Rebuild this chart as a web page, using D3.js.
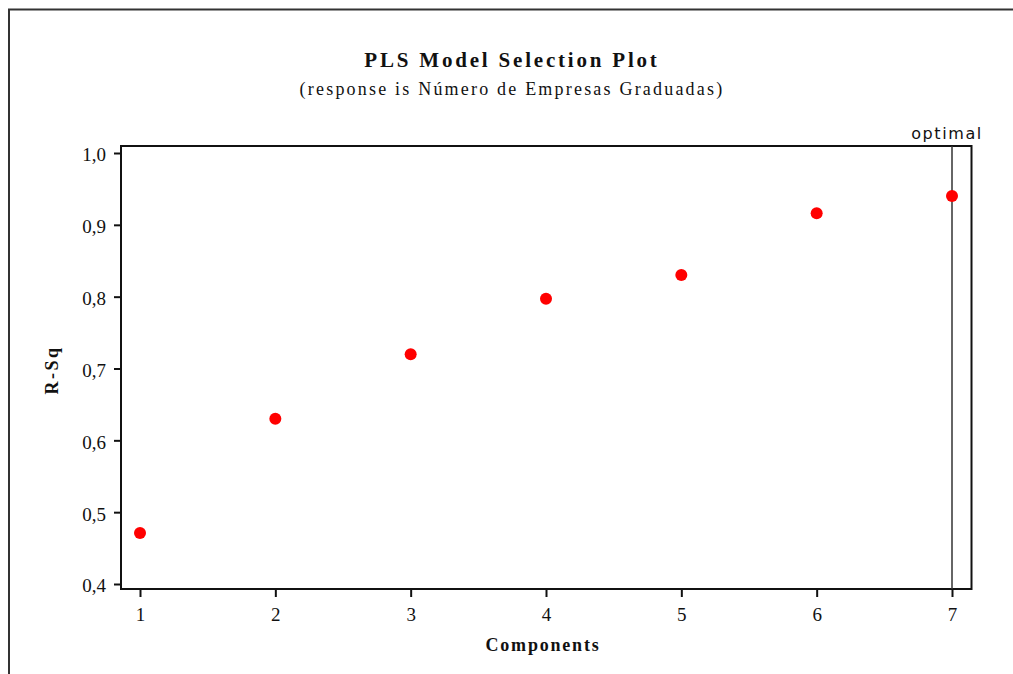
<!DOCTYPE html>
<html lang="en">
<head>
  <meta charset="UTF-8">
  <title>PLS Model Selection Plot</title>
  <script src="https://d3js.org/d3.v7.min.js"></script>
  <style>
    body { margin: 0; background: #fff; }
    svg { display: block; }
    text { fill: #111; }
  </style>
</head>
<body>
  <svg width="1013" height="674"></svg>

  <script>
    const components = [1, 2, 3, 4, 5, 6, 7];
    const rsq = [0.471, 0.630, 0.720, 0.797, 0.830, 0.916, 0.940];
    const yTicks = [0.4, 0.5, 0.6, 0.7, 0.8, 0.9, 1.0];
    const optimal = 7;

    const serif = "'Liberation Serif', 'Times New Roman', serif";
    const svg = d3.select("svg");

    // outer frame
    svg.append("rect")
      .attr("x", 9).attr("y", 9.5)
      .attr("width", 1020).attr("height", 700)
      .attr("fill", "none").attr("stroke", "#333").attr("stroke-width", 2);

    const x = d3.scaleLinear().domain([1, 7]).range([140, 952]);
    const y = d3.scaleLinear().domain([0.4, 1.0]).range([584, 153]);

    const pLeft = 121, pRight = 971.5, pTop = 146, pBottom = 589;

    // titles
    svg.append("text")
      .attr("x", 512).attr("y", 67)
      .attr("text-anchor", "middle")
      .style("font-family", serif)
      .style("font-size", "21px").style("font-weight", "bold")
      .style("letter-spacing", "2.8px")
      .text("PLS Model Selection Plot");
    svg.append("text")
      .attr("x", 512).attr("y", 95)
      .attr("text-anchor", "middle")
      .style("font-family", serif)
      .style("font-size", "18px")
      .style("letter-spacing", "2.2px")
      .text("(response is Número de Empresas Graduadas)");

    // axes
    const yAxis = d3.axisLeft(y).tickValues(yTicks).tickSize(7).tickPadding(8)
      .tickFormat(d => d3.format(".1f")(d).replace(".", ","));
    const gy = svg.append("g").attr("transform", `translate(${pLeft},0)`).call(yAxis);
    gy.select(".domain").remove();
    gy.selectAll(".tick text").attr("dy", "0.42em");

    const xAxis = d3.axisBottom(x).tickValues(components).tickSize(8).tickPadding(11)
      .tickFormat(d3.format("d"));
    const gx = svg.append("g").attr("transform", `translate(0,${pBottom})`).call(xAxis);
    gx.select(".domain").remove();

    svg.selectAll(".tick line").attr("stroke", "#111").attr("stroke-width", 2);
    svg.selectAll(".tick text")
      .style("font-family", serif)
      .style("font-size", "19px").attr("fill", "#111");

    // plot frame
    svg.append("rect")
      .attr("x", pLeft).attr("y", pTop)
      .attr("width", pRight - pLeft).attr("height", pBottom - pTop)
      .attr("fill", "none").attr("stroke", "#111").attr("stroke-width", 2);

    // optimal line
    svg.append("line")
      .attr("x1", x(optimal)).attr("x2", x(optimal))
      .attr("y1", pTop).attr("y2", pBottom)
      .attr("stroke", "#333").attr("stroke-width", 1.5);
    svg.append("text")
      .attr("x", x(optimal) - 5).attr("y", 139)
      .attr("text-anchor", "middle")
      .style("font-family", "'DejaVu Sans', sans-serif")
      .style("font-size", "16px").style("letter-spacing", "1.6px")
      .text("optimal");

    // points
    svg.append("g").selectAll("circle")
      .data(components).enter().append("circle")
      .attr("cx", d => x(d))
      .attr("cy", (d, i) => y(rsq[i]))
      .attr("r", 6)
      .attr("fill", "#ff0000");

    // axis labels
    svg.append("text")
      .attr("x", 543).attr("y", 651)
      .attr("text-anchor", "middle")
      .style("font-family", serif)
      .style("font-size", "18px").style("font-weight", "bold")
      .style("letter-spacing", "1.8px")
      .text("Components");
    svg.append("text")
      .attr("transform", `translate(58,370) rotate(-90)`)
      .attr("text-anchor", "middle")
      .style("font-family", serif)
      .style("font-size", "18px").style("font-weight", "bold")
      .style("letter-spacing", "2.5px")
      .text("R-Sq");
  </script>
</body>
</html>
